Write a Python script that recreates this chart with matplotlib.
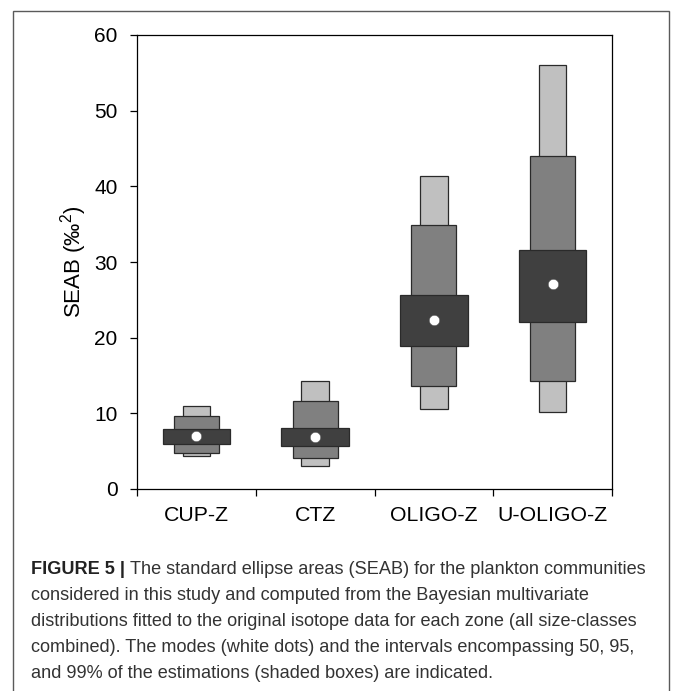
import matplotlib
matplotlib.use("Agg")
import matplotlib.pyplot as plt
from matplotlib.patches import Rectangle

# SEAB estimates per zone
zones = ['CUP-Z', 'CTZ', 'OLIGO-Z', 'U-OLIGO-Z']
mode = [7.0, 6.9, 22.3, 27.1]
ci50_lo = [6.0, 5.7, 18.9, 22.1]
ci50_hi = [7.9, 8.1, 25.7, 31.6]
ci95_lo = [4.8, 4.1, 13.6, 14.3]
ci95_hi = [9.7, 11.6, 34.9, 44.0]
ci99_lo = [4.3, 3.1, 10.6, 10.2]
ci99_hi = [11.0, 14.3, 41.4, 56.0]

caption_lines = [
    "The standard ellipse areas (SEAB) for the plankton communities",
    "considered in this study and computed from the Bayesian multivariate",
    "distributions fitted to the original isotope data for each zone (all size-classes",
    "combined). The modes (white dots) and the intervals encompassing 50, 95,",
    "and 99% of the estimations (shaded boxes) are indicated.",
]

W, H = 673, 691
plt.rcParams['font.family'] = ['Liberation Sans', 'DejaVu Sans']
plt.rcParams['mathtext.fontset'] = 'custom'
plt.rcParams['mathtext.rm'] = 'Liberation Sans'
plt.rcParams['mathtext.it'] = 'Liberation Sans:italic'

fig = plt.figure(figsize=(W / 100, H / 100), dpi=100)
ax = fig.add_axes([137 / W, 1 - 489 / H, (612 - 137) / W, (489 - 35) / H])

xs = list(range(1, len(zones) + 1))
edge = '#2a2a2a'
levels = [
    (ci99_lo, ci99_hi, 0.23, '#c0c0c0'),
    (ci95_lo, ci95_hi, 0.38, '#808080'),
    (ci50_lo, ci50_hi, 0.57, '#404040'),
]
for lo, hi, width, color in levels:
    heights = [h - l for l, h in zip(lo, hi)]
    ax.bar(xs, heights, bottom=lo, width=width, color=color,
           edgecolor=edge, linewidth=0.9, zorder=2)

ax.plot(xs, mode, 'o', color='white', markeredgecolor='#555555',
        markeredgewidth=0.4, markersize=7.5, zorder=3)

ax.set_xlim(0.5, len(zones) + 0.5)
ax.set_ylim(0, 60)
ax.set_yticks(range(0, 61, 10))
ax.set_xticks([i + 0.5 for i in range(len(zones) + 1)])
ax.set_xticklabels([])
ax.set_xticks(xs, minor=True)
ax.set_xticklabels(zones, minor=True, fontsize=15.3)
ax.tick_params(axis='x', which='major', direction='out', length=5, width=0.9)
ax.tick_params(axis='x', which='minor', length=0, pad=12)
ax.tick_params(axis='y', direction='out', length=5, width=0.9,
               labelsize=15, pad=9)
for sp in ax.spines.values():
    sp.set_linewidth(0.9)
    sp.set_color('black')
ax.set_ylabel('SEAB (‰$^{\\mathrm{2}}$)', fontsize=16, labelpad=4)

# outer frame around figure and caption
fig.patches.append(Rectangle((13 / W, -0.02), (669 - 13) / W, 1.02 - 11 / H,
                             transform=fig.transFigure, fill=False,
                             edgecolor='#5a5a5a', linewidth=1.0))

# caption
cap_x = 31 / W
line_y = [569, 595, 621, 648, 674]
cap_size = 13.1
renderer = fig.canvas.get_renderer()
bold = fig.text(cap_x, 1 - line_y[0] / H, 'FIGURE 5 | ', fontsize=cap_size,
                fontweight='bold', color='#222222', va='center')
bb = bold.get_window_extent(renderer=renderer)
fig.text(bb.x1 / W, 1 - line_y[0] / H, caption_lines[0], fontsize=cap_size,
         color='#333333', va='center')
for txt, yp in zip(caption_lines[1:], line_y[1:]):
    fig.text(cap_x, 1 - yp / H, txt, fontsize=cap_size, color='#333333',
             va='center')

fig.savefig('out.png', dpi=100)
